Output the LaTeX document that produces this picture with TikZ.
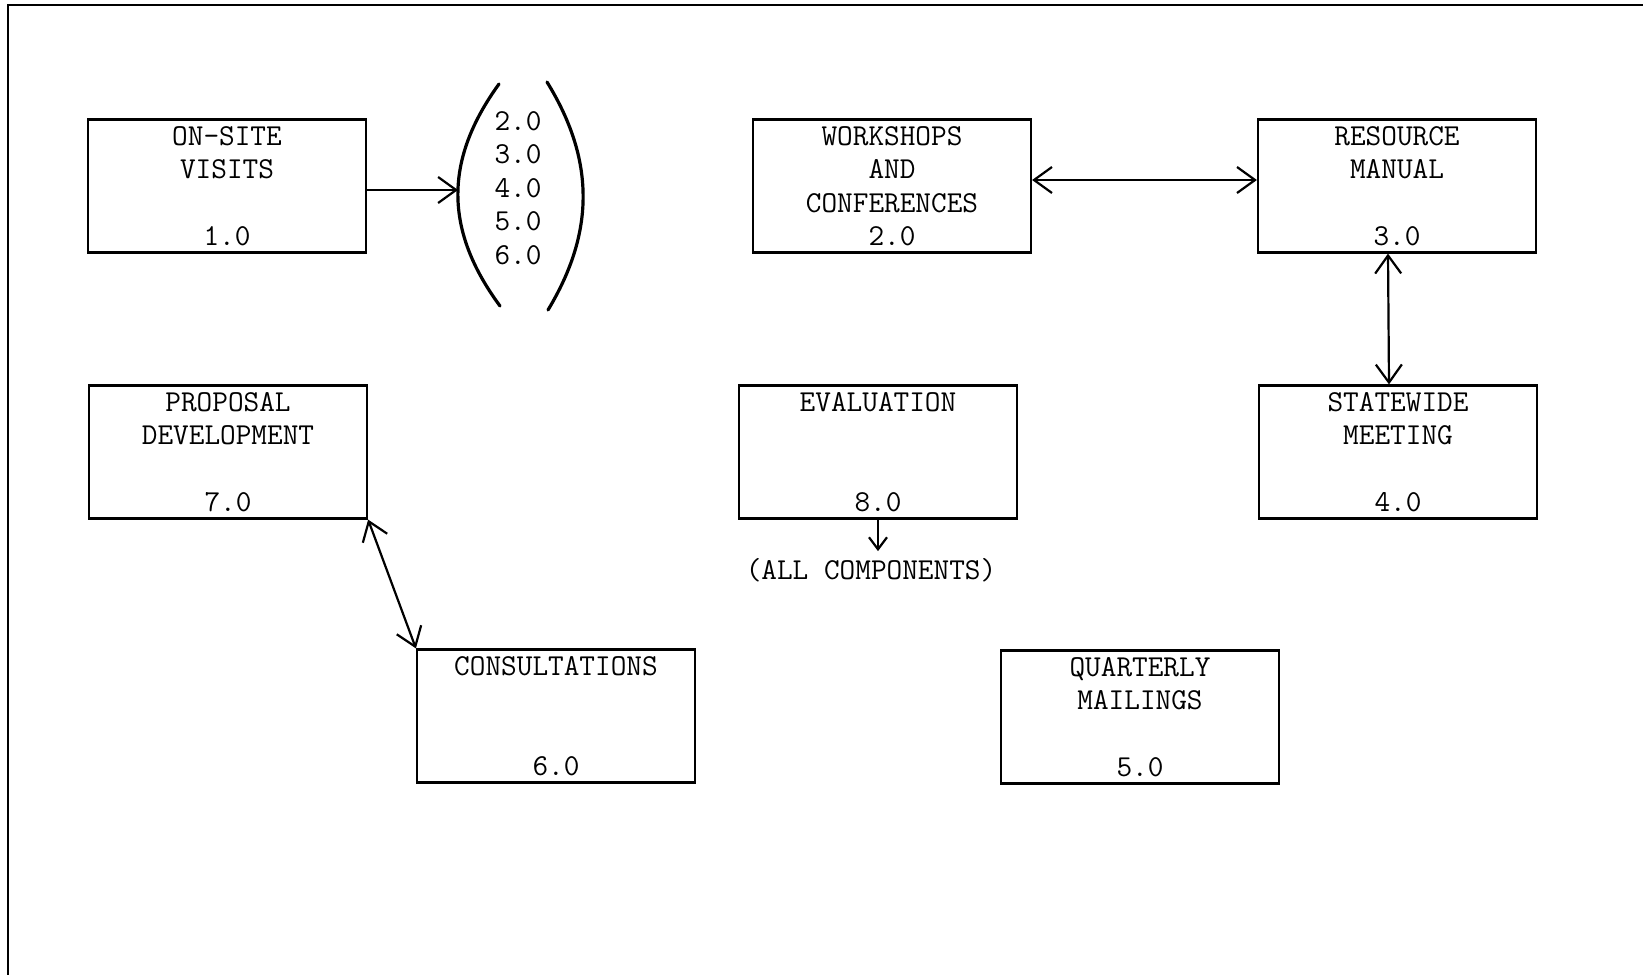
\documentclass[tikz,border=0pt]{standalone}
\usepackage{tikz}
\usetikzlibrary{arrows.meta}

\tikzset{
  comp/.style={draw, line width=1.1pt, minimum width=139pt, minimum height=66.5pt,
    inner sep=0pt, align=center, font=\fontsize{15.2}{16.75}\selectfont\ttfamily},
  plain/.style={align=center, font=\fontsize{15.2}{16.75}\selectfont\ttfamily},
  link/.style={line width=1.1pt},
}

\begin{document}
\begin{tikzpicture}[x=0.5pt,y=-0.5pt,>={Straight Barb[length=9pt,width=13pt]}]
\useasboundingbox (0,0) rectangle (1643,975);
\draw[line width=0.8pt] (1643,5) -- (8,5) -- (8,975);
% components
\node[comp] (onsite) at (227,186) {ON-SITE\\VISITS\\~\\1.0};
\node[comp] (workshops) at (892,186) {WORKSHOPS\\AND\\CONFERENCES\\2.0};
\node[comp] (resource) at (1397,186) {RESOURCE\\MANUAL\\~\\3.0};
\node[comp] (proposal) at (228,452) {PROPOSAL\\DEVELOPMENT\\~\\7.0};
\node[comp] (evaluation) at (878,452) {EVALUATION\\~\\~\\8.0};
\node[comp] (statewide) at (1398,452) {STATEWIDE\\MEETING\\~\\4.0};
\node[comp] (consult) at (556,716) {CONSULTATIONS\\~\\~\\6.0};
\node[comp] (mailings) at (1140,717) {QUARTERLY\\MAILINGS\\~\\5.0};
% bracketed list
\node[plain] (ids) at (518,188) {2.0\\3.0\\4.0\\5.0\\6.0};
\draw[line width=1.6pt,line cap=round] (499,84) .. controls (444,160) and (444,230) .. (500,306);
\draw[line width=1.6pt,line cap=round] (547,82) .. controls (595,160) and (595,232) .. (548,310);
\coordinate (lp) at (458,190);
\node[plain] (allc) at (871,570) {(ALL COMPONENTS)};
% connectors
\draw[link,->] (onsite.east |- lp) -- (lp);
\draw[link,<->] ([yshift=3pt]workshops.east) -- ([yshift=3pt]resource.west);
\draw[link,<->] ([xshift=-4.5pt]resource.south) -- ([xshift=-4.5pt]statewide.north);
\draw[link,<->] (proposal.south east) -- (consult.north west);
\draw[link,-{Straight Barb[length=6pt,width=9pt]}] (evaluation.south) -- (evaluation.south |- allc.north);
\end{tikzpicture}
\end{document}
